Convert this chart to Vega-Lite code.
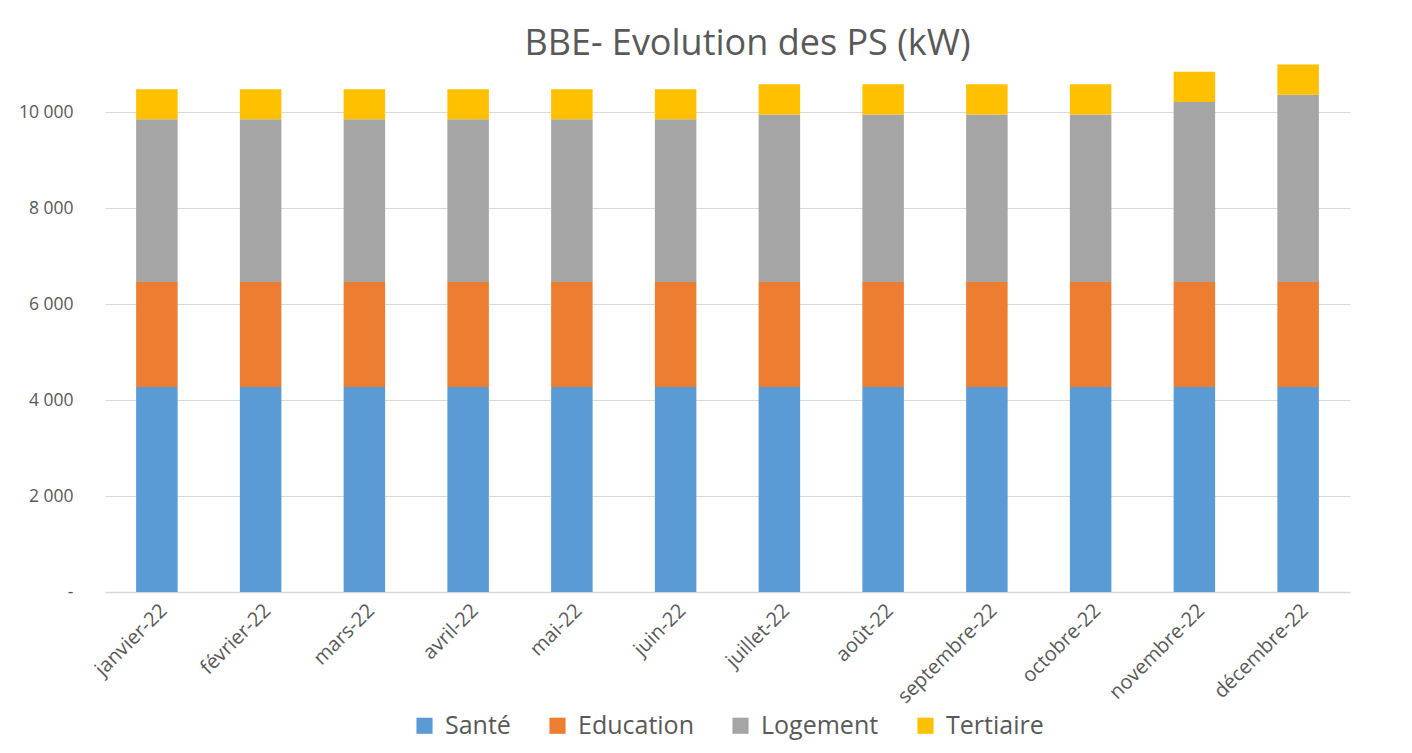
{
  "$schema": "https://vega.github.io/schema/vega-lite/v6.json",
  "width": 1245,
  "height": 528,
  "padding": {"left": 18, "top": 26, "right": 10, "bottom": 5},
  "background": "white",
  "title": {
    "text": "BBE- Evolution des PS (kW)",
    "fontSize": 36,
    "font": "Open Sans",
    "fontWeight": "normal",
    "color": "#595959",
    "offset": 1,
    "dx": 20,
    "anchor": "middle"
  },
  "data": {
    "values": [
      {"mois": "janvier-22", "secteur": "Santé", "kw": 4270},
      {"mois": "janvier-22", "secteur": "Education", "kw": 2190},
      {"mois": "janvier-22", "secteur": "Logement", "kw": 3390},
      {"mois": "janvier-22", "secteur": "Tertiaire", "kw": 625},
      {"mois": "février-22", "secteur": "Santé", "kw": 4270},
      {"mois": "février-22", "secteur": "Education", "kw": 2190},
      {"mois": "février-22", "secteur": "Logement", "kw": 3390},
      {"mois": "février-22", "secteur": "Tertiaire", "kw": 625},
      {"mois": "mars-22", "secteur": "Santé", "kw": 4270},
      {"mois": "mars-22", "secteur": "Education", "kw": 2190},
      {"mois": "mars-22", "secteur": "Logement", "kw": 3390},
      {"mois": "mars-22", "secteur": "Tertiaire", "kw": 625},
      {"mois": "avril-22", "secteur": "Santé", "kw": 4270},
      {"mois": "avril-22", "secteur": "Education", "kw": 2190},
      {"mois": "avril-22", "secteur": "Logement", "kw": 3390},
      {"mois": "avril-22", "secteur": "Tertiaire", "kw": 625},
      {"mois": "mai-22", "secteur": "Santé", "kw": 4270},
      {"mois": "mai-22", "secteur": "Education", "kw": 2190},
      {"mois": "mai-22", "secteur": "Logement", "kw": 3390},
      {"mois": "mai-22", "secteur": "Tertiaire", "kw": 625},
      {"mois": "juin-22", "secteur": "Santé", "kw": 4270},
      {"mois": "juin-22", "secteur": "Education", "kw": 2190},
      {"mois": "juin-22", "secteur": "Logement", "kw": 3390},
      {"mois": "juin-22", "secteur": "Tertiaire", "kw": 625},
      {"mois": "juillet-22", "secteur": "Santé", "kw": 4270},
      {"mois": "juillet-22", "secteur": "Education", "kw": 2190},
      {"mois": "juillet-22", "secteur": "Logement", "kw": 3490},
      {"mois": "juillet-22", "secteur": "Tertiaire", "kw": 630},
      {"mois": "août-22", "secteur": "Santé", "kw": 4270},
      {"mois": "août-22", "secteur": "Education", "kw": 2190},
      {"mois": "août-22", "secteur": "Logement", "kw": 3490},
      {"mois": "août-22", "secteur": "Tertiaire", "kw": 630},
      {"mois": "septembre-22", "secteur": "Santé", "kw": 4270},
      {"mois": "septembre-22", "secteur": "Education", "kw": 2190},
      {"mois": "septembre-22", "secteur": "Logement", "kw": 3490},
      {"mois": "septembre-22", "secteur": "Tertiaire", "kw": 630},
      {"mois": "octobre-22", "secteur": "Santé", "kw": 4270},
      {"mois": "octobre-22", "secteur": "Education", "kw": 2190},
      {"mois": "octobre-22", "secteur": "Logement", "kw": 3490},
      {"mois": "octobre-22", "secteur": "Tertiaire", "kw": 630},
      {"mois": "novembre-22", "secteur": "Santé", "kw": 4270},
      {"mois": "novembre-22", "secteur": "Education", "kw": 2190},
      {"mois": "novembre-22", "secteur": "Logement", "kw": 3750},
      {"mois": "novembre-22", "secteur": "Tertiaire", "kw": 630},
      {"mois": "décembre-22", "secteur": "Santé", "kw": 4270},
      {"mois": "décembre-22", "secteur": "Education", "kw": 2190},
      {"mois": "décembre-22", "secteur": "Logement", "kw": 3900},
      {"mois": "décembre-22", "secteur": "Tertiaire", "kw": 630}
    ]
  },
  "transform": [
    {"calculate": "indexof(['Santé', 'Education', 'Logement', 'Tertiaire'], datum.secteur)", "as": "rang"}
  ],
  "mark": {"type": "bar"},
  "encoding": {
    "x": {
      "field": "mois",
      "type": "nominal",
      "sort": null,
      "scale": {"paddingInner": 0.6, "paddingOuter": 0.3},
      "axis": {
        "title": null,
        "labelAngle": -45,
        "labelFontSize": 20,
        "labelFont": "Open Sans",
        "labelColor": "#595959",
        "ticks": false,
        "domainColor": "#D9D9D9",
        "domainWidth": 1.5,
        "labelPadding": 8
      }
    },
    "y": {
      "field": "kw",
      "type": "quantitative",
      "aggregate": "sum",
      "stack": "zero",
      "scale": {"domain": [0, 11000], "nice": false},
      "axis": {
        "title": null,
        "values": [0, 2000, 4000, 6000, 8000, 10000],
        "labelExpr": "datum.value == 0 ? '-' : replace(format(datum.value, ','), ',', ' ')",
        "labelFontSize": 17.5,
        "labelFont": "Open Sans",
        "labelColor": "#595959",
        "domain": false,
        "ticks": false,
        "gridColor": "#D9D9D9",
        "gridWidth": 1.2,
        "labelPadding": 32
      }
    },
    "color": {
      "field": "secteur",
      "type": "nominal",
      "sort": ["Santé", "Education", "Logement", "Tertiaire"],
      "scale": {
        "domain": ["Santé", "Education", "Logement", "Tertiaire"],
        "range": ["#5B9BD5", "#ED7D31", "#A5A5A5", "#FFC000"]
      },
      "legend": {
        "title": null,
        "orient": "bottom",
        "direction": "horizontal",
        "symbolType": "square",
        "symbolSize": 260,
        "symbolStrokeWidth": 0,
        "labelFontSize": 25,
        "labelFont": "Open Sans",
        "labelColor": "#595959",
        "labelOffset": 8,
        "columnPadding": 34,
        "offset": 6
      }
    },
    "order": {"field": "rang", "type": "quantitative", "sort": "ascending"}
  },
  "config": {
    "view": {"stroke": null},
    "legend": {"layout": {"bottom": {"anchor": "middle"}}}
  }
}
